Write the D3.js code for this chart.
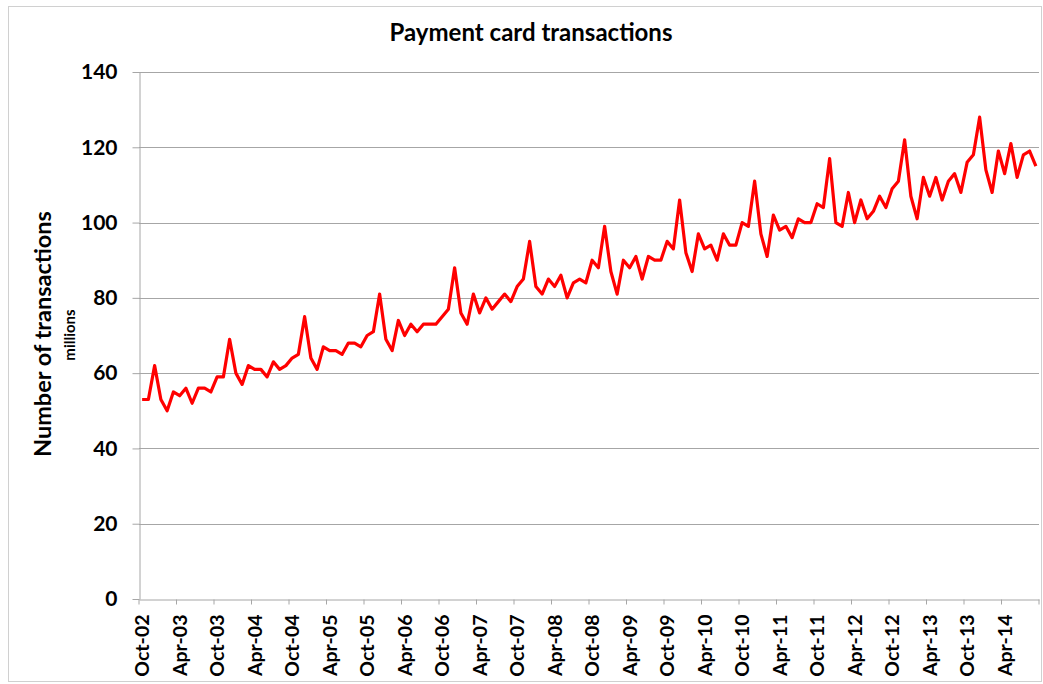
<!DOCTYPE html>
<html>
<head>
<meta charset="utf-8">
<script src="https://cdn.jsdelivr.net/npm/d3@7"></script>
<style>
  body { margin: 0; background: #fff; }
  svg text { font-family: Lato, "Open Sans", sans-serif; font-weight: bold; fill: #000; }
</style>
</head>
<body>
<svg width="1043" height="684"></svg>
<script>
// monthly card transactions, millions, Oct-02 .. Sep-14
var startMonth = new Date(Date.UTC(2002, 9, 1));
var values = [
  53,53,62,53,50,55,54,56,52,56,56,55,59,59,69,60,57,62,61,61,59,63,61,62,
  64,65,75,64,61,67,66,66,65,68,68,67,70,71,81,69,66,74,70,73,71,73,73,73,
  75,77,88,76,73,81,76,80,77,79,81,79,83,85,95,83,81,85,83,86,80,84,85,84,
  90,88,99,87,81,90,88,91,85,91,90,90,95,93,106,92,87,97,93,94,90,97,94,94,
  100,99,111,97,91,102,98,99,96,101,100,100,105,104,117,100,99,108,100,106,101,103,107,104,
  109,111,122,107,101,112,107,112,106,111,113,108,116,118,128,114,108,119,113,121,112,118,119,115
];
var yTicks = [0, 20, 40, 60, 80, 100, 120, 140];
var labelEvery = 6;

var months = values.map(function(v, i) { return d3.utcMonth.offset(startMonth, i); });
var fmt = d3.utcFormat("%b-%y");

var svg = d3.select("svg");
var margin = {left: 139, top: 72};

// outer border
svg.append("rect")
    .attr("x", 8.5).attr("y", 6.5)
    .attr("width", 1033).attr("height", 675)
    .attr("fill", "none").attr("stroke", "#d0d0d0");

var g = svg.append("g").attr("transform", "translate(" + margin.left + "," + margin.top + ")");

var x = d3.scaleBand().domain(d3.range(values.length)).range([0, 900]).padding(0);
var y = d3.scaleLinear().domain([0, 140]).range([527, 0]);

// gridlines
g.append("g")
  .selectAll("line")
  .data(yTicks.slice(1))
  .enter().append("line")
    .attr("x1", 0).attr("x2", 900)
    .attr("y1", d => Math.round(y(d)) + 0.5)
    .attr("y2", d => Math.round(y(d)) + 0.5)
    .attr("stroke", "#a6a6a6");

// y axis
var yAxis = g.append("g")
    .attr("transform", "translate(0.5,0)")
    .call(d3.axisLeft(y).tickValues(yTicks).tickSize(7).tickSizeOuter(0));
yAxis.selectAll("path, line").attr("stroke", "#a6a6a6");
yAxis.selectAll("text")
    .attr("x", -22)
    .style("font-size", "21px");

// x axis
var xAxis = g.append("g")
    .attr("transform", "translate(0," + (Math.round(y(0)) + 0.5) + ")")
    .call(d3.axisBottom(x)
      .tickValues(d3.range(0, values.length, labelEvery))
      .tickFormat(i => fmt(months[i]))
      .tickSize(5).tickSizeOuter(0));
xAxis.select(".domain").attr("stroke", "#a6a6a6");
xAxis.selectAll(".tick line")
    .attr("stroke", "#a6a6a6")
    .attr("transform", "translate(" + (-x.bandwidth() / 2) + ",0)");
xAxis.append("line")
    .attr("x1", 900).attr("x2", 900).attr("y1", 0).attr("y2", 5)
    .attr("stroke", "#a6a6a6");
xAxis.selectAll("text")
    .attr("transform", "rotate(-90)")
    .attr("x", -15).attr("y", 0).attr("dy", "0.36em")
    .attr("text-anchor", "end")
    .style("font-size", "19.5px");

// the series
var line = d3.line()
    .x((d, i) => x(i) + x.bandwidth() / 2)
    .y(d => y(d));

g.append("path")
    .datum(values)
    .attr("fill", "none")
    .attr("stroke", "#ff0000")
    .attr("stroke-width", 3.2)
    .attr("stroke-linejoin", "round")
    .attr("d", line);

// titles
svg.append("text")
    .attr("x", 531).attr("y", 41)
    .attr("text-anchor", "middle")
    .style("font-size", "24px")
    .text("Payment card transactions");

svg.append("text")
    .attr("transform", "translate(51,334) rotate(-90)")
    .attr("text-anchor", "middle")
    .style("font-size", "23.5px")
    .text("Number of transactions");

svg.append("text")
    .attr("transform", "translate(75,335) rotate(-90)")
    .attr("text-anchor", "middle")
    .style("font-size", "15px")
    .text("millions");
</script>
</body>
</html>
